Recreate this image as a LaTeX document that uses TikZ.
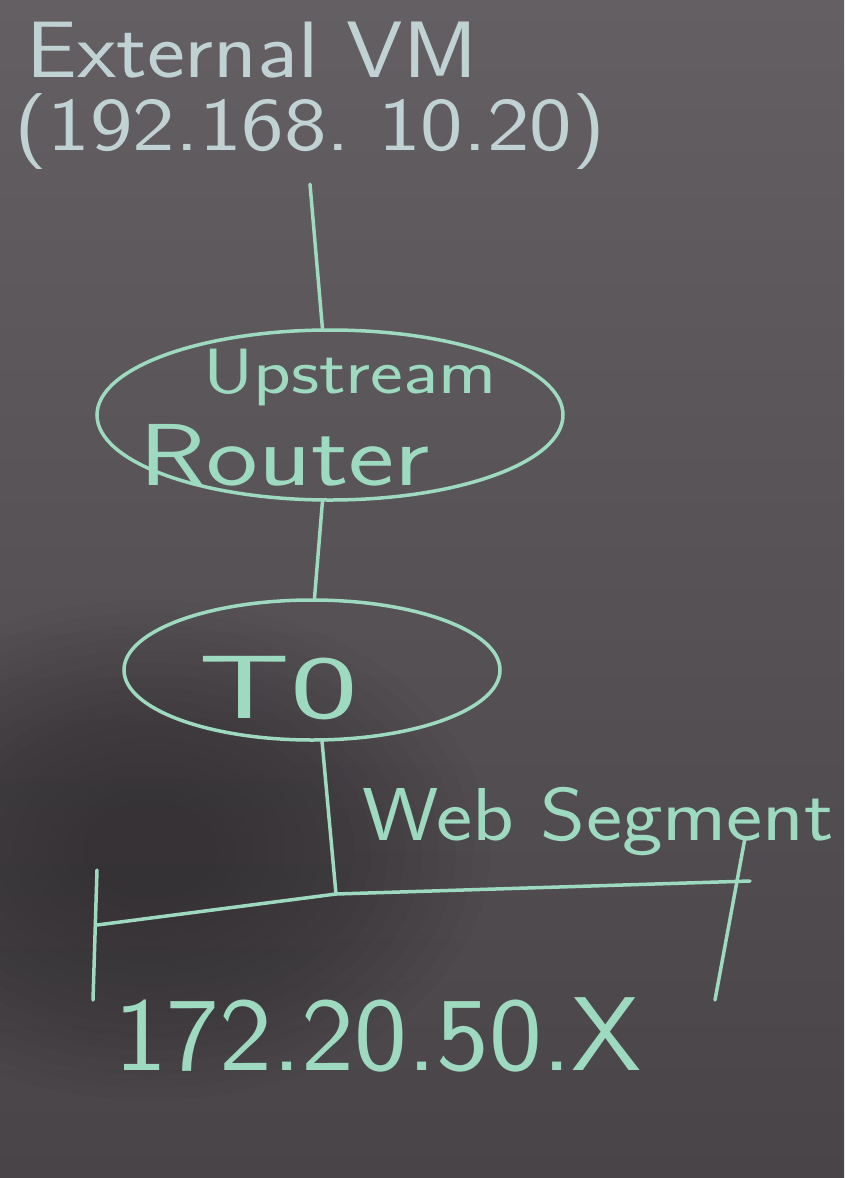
\documentclass[tikz,border=0pt]{standalone}
\usetikzlibrary{shapes.geometric}
\definecolor{chalkgreen}{RGB}{158,218,192}
\definecolor{chalkwhite}{RGB}{192,210,212}
\definecolor{boardtop}{RGB}{100,95,99}
\definecolor{boardbot}{RGB}{72,68,72}
\definecolor{boarddark}{RGB}{34,31,34}
\begin{document}
\begin{tikzpicture}[x=1pt,y=-1pt,
  chalk/.style={draw=chalkgreen, line width=3.5pt, line cap=round, line join=round},
  txtw/.style={text=chalkwhite, inner sep=0pt},
  txtg/.style={text=chalkgreen, inner sep=0pt},
  bubble/.style={ellipse, draw=chalkgreen, line width=3.5pt, inner sep=0pt}]
\useasboundingbox (0,0) rectangle (844,1178);
% board
\shade[top color=boardtop, bottom color=boardbot] (0,0) rectangle (844,1178);
\foreach \r in {1.0,0.95,...,0.15}{
  \fill[boarddark, opacity=0.035] (150,850) ellipse ({340*\r} and {250*\r});
}
% texts
\node[txtw, font=\fontsize{80}{82}\sffamily, xscale=1.13] (extA) at (252,50) {External VM};
\node[txtw, font=\fontsize{76}{78}\sffamily, xscale=1.19] (extB) at (310,132) {(192.168.\ 10.20)};
% nodes
\node[bubble, minimum width=466pt, minimum height=170pt] (up) at (330,415) {};
\node[txtg, font=\fontsize{64}{66}\sffamily, xscale=1.22] (upA) at (350,378) {Upstream};
\node[txtg, font=\fontsize{88}{90}\sffamily, xscale=1.25] (upB) at (285,455) {Router};
\node[bubble, minimum width=376pt, minimum height=140pt] (t0) at (312,670) {};
\node[txtg, font=\fontsize{90}{92}\sffamily, xscale=1.6] (t0A) at (278,688) {T0};
% segment
\coordinate (segL) at (97,925);
\coordinate (segM) at (336,894);
\coordinate (segR) at (750,881);
\coordinate (tickLt) at (97,870);
\coordinate (tickLb) at (93,1000);
\coordinate (tickRt) at (745,838);
\coordinate (tickRb) at (715,1000);
\node[txtg, font=\fontsize{75}{77}\sffamily, xscale=1.15] (web) at (598,822) {Web Segment};
\node[txtg, font=\fontsize{105}{107}\sffamily, xscale=1.07] (net) at (378,1035) {172.20.50.X};
% connectors
\draw[chalk] ([yshift=-14pt]extB.south) -- (up.95);
\draw[chalk] (up.265) -- (t0.88);
\draw[chalk] (t0.278) -- (segM);
\draw[chalk] (segL) -- (segM) -- (segR);
\draw[chalk] (tickLt) -- (tickLb);
\draw[chalk] (tickRt) -- (tickRb);
\end{tikzpicture}
\end{document}
